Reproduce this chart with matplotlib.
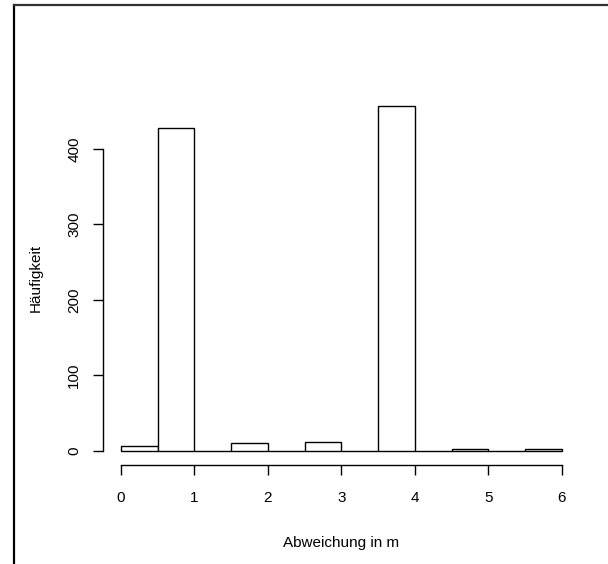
import numpy as np
import matplotlib
matplotlib.use("Agg")
import matplotlib.pyplot as plt
from matplotlib.lines import Line2D

# histogram of deviations, bins of width 0.5 from 0 to 6
bin_edges = np.arange(0, 6.5, 0.5)
counts = [7, 427, 0, 10, 0, 12, 0, 457, 0, 3, 0, 2]
x_ticks = [0, 1, 2, 3, 4, 5, 6]
y_ticks = [0, 100, 200, 300, 400]

plt.rcParams["font.family"] = ["Liberation Sans", "DejaVu Sans"]
plt.rcParams["font.size"] = 11

fig = plt.figure(figsize=(6.08, 5.64), dpi=100)
ax = fig.add_axes([0.170, 0.176, 0.783, 0.661])

ax.bar(bin_edges[:-1], counts, width=0.5, align="edge",
       facecolor="white", edgecolor="black", linewidth=1.0)

# R style: 4% extension of the data range
xr = bin_edges[-1] - bin_edges[0]
ax.set_xlim(bin_edges[0] - 0.04 * xr, bin_edges[-1] + 0.04 * xr)
ymax = max(counts)
ax.set_ylim(-0.04 * ymax, ymax * 1.04)

for s in ["top", "right"]:
    ax.spines[s].set_visible(False)
ax.spines["left"].set_bounds(y_ticks[0], y_ticks[-1])
ax.spines["bottom"].set_bounds(x_ticks[0], x_ticks[-1])
ax.spines["left"].set_linewidth(1.0)
ax.spines["bottom"].set_linewidth(1.0)

ax.set_xticks(x_ticks)
ax.set_yticks(y_ticks)
ax.set_yticklabels([str(v) for v in y_ticks], rotation=90, va="center")
ax.tick_params(axis="x", direction="out", length=7, width=1.0, pad=12)
ax.tick_params(axis="y", direction="out", length=7, width=1.0, pad=9)

ax.set_xlabel("Abweichung in m", labelpad=22)
ax.set_ylabel("Häufigkeit", labelpad=17.5)

# frame of the screenshot (left and top edge)
fig.add_artist(Line2D([14 / 608, 14 / 608], [0, 1 - 5 / 564],
                      transform=fig.transFigure, color="black", linewidth=1.6))
fig.add_artist(Line2D([14 / 608, 1], [1 - 5 / 564, 1 - 5 / 564],
                      transform=fig.transFigure, color="#333333", linewidth=1.6))

fig.savefig("out.png", dpi=100)
